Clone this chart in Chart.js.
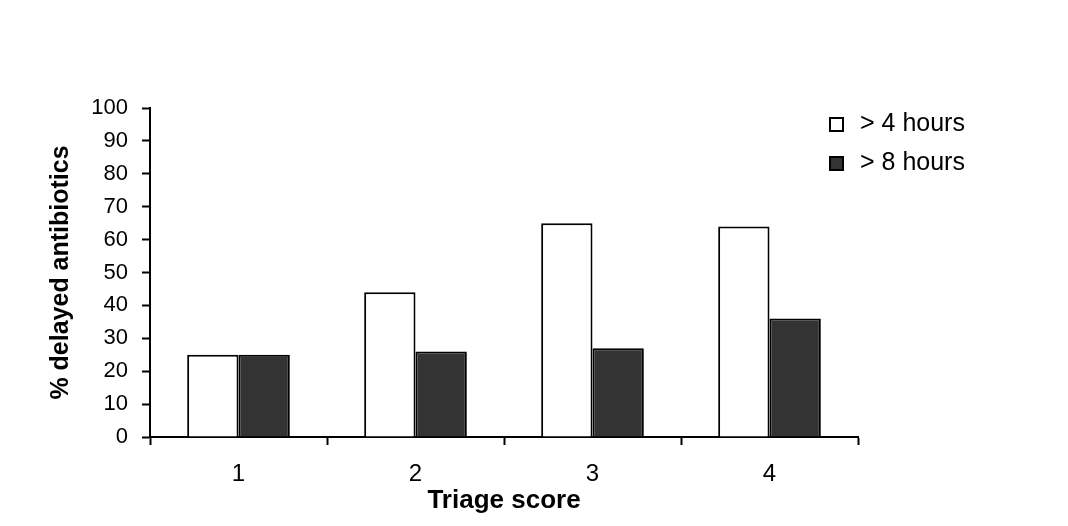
<!DOCTYPE html>
<html lang="en">
<head>
    <meta charset="UTF-8">
    <title>Delayed antibiotics by triage score</title>
    <script src="https://cdn.jsdelivr.net/npm/chart.js"></script>
    <style>
        html, body { margin: 0; padding: 0; background: #fff; }
        #wrap { width: 1068px; height: 526px; }
    </style>
</head>
<body>
    <div id="wrap">
        <canvas id="myChart" width="1068" height="526"></canvas>
    </div>
    <script>
        const triageScores = ['1', '2', '3', '4'];
        const over4Hours = [25, 44, 65, 64];
        const over8Hours = [25, 26, 27, 36];
        const seriesNames = ['> 4 hours', '> 8 hours'];
        const yTicks = { min: 0, max: 100, step: 10 };

        // legend in the top right, drawn from the datasets
        const sideLegend = {
            id: 'sideLegend',
            afterDraw(chart) {
                const ctx = chart.ctx;
                ctx.save();
                ctx.font = '25px "Liberation Sans", Arial, sans-serif';
                ctx.textBaseline = 'alphabetic';
                chart.data.datasets.forEach((ds, i) => {
                    const base = 131 + i * 39;
                    ctx.fillStyle = ds.backgroundColor;
                    ctx.fillRect(830, base - 13, 13, 13);
                    ctx.strokeStyle = '#000';
                    ctx.lineWidth = 2;
                    ctx.strokeRect(830, base - 13, 13, 13);
                    ctx.fillStyle = '#000';
                    ctx.fillText(ds.label, 860, base);
                });
                ctx.restore();
            }
        };

        const ctx = document.getElementById('myChart').getContext('2d');
        const myChart = new Chart(ctx, {
            type: 'bar',
            data: {
                labels: triageScores,
                datasets: [{
                    label: seriesNames[0],
                    data: over4Hours,
                    backgroundColor: '#ffffff',
                    borderColor: '#000000',
                    borderWidth: 2
                }, {
                    label: seriesNames[1],
                    data: over8Hours,
                    backgroundColor: '#333333',
                    borderColor: '#000000',
                    borderWidth: 2
                }]
            },
            options: {
                responsive: false,
                animation: false,
                layout: { padding: { left: 0, right: 210, top: 108, bottom: 0 } },
                datasets: {
                    bar: { categoryPercentage: 0.58, barPercentage: 1.0 }
                },
                plugins: {
                    legend: { display: false },
                    tooltip: { enabled: false }
                },
                scales: {
                    x: {
                        afterFit(scale) { scale.height = 89; },
                        grid: {
                            offset: true,
                            drawOnChartArea: false,
                            drawTicks: true,
                            tickLength: 8,
                            tickWidth: 2,
                            tickColor: '#000'
                        },
                        border: { color: '#000', width: 2 },
                        ticks: {
                            color: '#000',
                            padding: 15,
                            font: { family: '"Liberation Sans", Arial, sans-serif', size: 24 }
                        },
                        title: {
                            display: true,
                            text: 'Triage score',
                            color: '#000',
                            padding: { top: 0, bottom: 10 },
                            font: { family: '"Liberation Sans", Arial, sans-serif', size: 26, weight: 'bold' }
                        }
                    },
                    y: {
                        min: yTicks.min,
                        max: yTicks.max,
                        afterFit(scale) { scale.width = 150; },
                        grid: {
                            drawOnChartArea: false,
                            drawTicks: true,
                            tickLength: 8,
                            tickWidth: 2,
                            tickColor: '#000'
                        },
                        border: { color: '#000', width: 2 },
                        ticks: {
                            stepSize: yTicks.step,
                            color: '#000',
                            padding: 14,
                            font: { family: '"Liberation Sans", Arial, sans-serif', size: 22 }
                        },
                        title: {
                            display: true,
                            text: '% delayed antibiotics',
                            color: '#000',
                            padding: { top: 46, bottom: 0 },
                            font: { family: '"Liberation Sans", Arial, sans-serif', size: 25, weight: 'bold' }
                        }
                    }
                }
            },
            plugins: [sideLegend]
        });
    </script>
</body>
</html>
